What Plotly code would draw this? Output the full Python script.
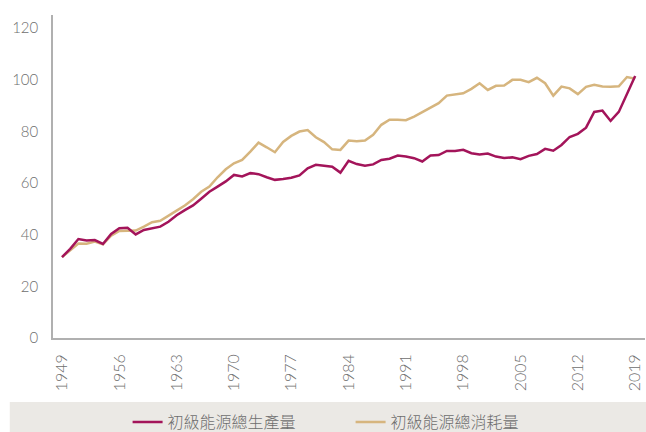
import plotly.graph_objects as go

# Primary energy, index values
years = list(range(1949, 2020))

production = [
    31.3, 34.5, 38.3, 37.7, 37.9, 36.4, 40.3, 42.5, 42.7, 40.1,
    41.8, 42.5, 43.1, 45.0, 47.5, 49.5, 51.3, 53.9, 56.6, 58.6,
    60.6, 63.1, 62.5, 63.8, 63.4, 62.2, 61.2, 61.5, 62.0, 62.9,
    65.7, 67.0, 66.7, 66.3, 64.0, 68.6, 67.3, 66.7, 67.2, 68.9,
    69.4, 70.6, 70.2, 69.6, 68.3, 70.6, 70.8, 72.4, 72.4, 72.8,
    71.5, 71.0, 71.4, 70.2, 69.7, 69.9, 69.2, 70.5, 71.2, 73.2,
    72.5, 74.7, 77.8, 79.0, 81.4, 87.5, 88.0, 84.0, 87.5, 94.8,
    101.4,
]

consumption = [
    31.3, 34.1, 36.6, 36.5, 37.3, 36.3, 39.6, 41.4, 41.5, 41.6,
    43.1, 44.8, 45.4, 47.2, 49.3, 51.3, 53.7, 56.6, 58.6, 62.2,
    65.3, 67.6, 68.9, 72.1, 75.6, 73.8, 71.9, 75.9, 78.2, 79.9,
    80.5, 77.7, 75.8, 73.0, 72.8, 76.4, 76.1, 76.4, 78.6, 82.5,
    84.5, 84.5, 84.3, 85.7, 87.4, 89.2, 90.9, 93.8, 94.3, 94.7,
    96.4, 98.6, 96.0, 97.6, 97.7, 99.9, 99.9, 99.0, 100.7, 98.6,
    93.8, 97.3, 96.6, 94.4, 97.2, 98.0, 97.3, 97.2, 97.4, 101.0,
    100.3,
]

x_ticks = [1949, 1956, 1963, 1970, 1977, 1984, 1991, 1998, 2005, 2012, 2019]
y_ticks = [0, 20, 40, 60, 80, 100, 120]

names = ['初級能源總生產量', '初級能源總消耗量']
colors = ['#a3145a', '#d6b57e']

FONT = 'Lato, "Noto Sans CJK TC", sans-serif'

fig = go.Figure()

# consumption drawn first so the production line sits on top
fig.add_trace(go.Scatter(
    x=years, y=consumption, mode='lines', name=names[1],
    line=dict(color=colors[1], width=2.5), legendrank=2,
))
fig.add_trace(go.Scatter(
    x=years, y=production, mode='lines', name=names[0],
    line=dict(color=colors[0], width=2.5), legendrank=1,
))

# grey band behind the legend
fig.add_shape(
    type='rect', xref='paper', yref='paper',
    x0=-0.073, x1=1.01, y0=-0.30, y1=-0.198,
    fillcolor='#ebe9e5', line=dict(width=0), layer='below',
)

fig.update_layout(
    width=646, height=432,
    margin=dict(l=53, r=1, t=15, b=94, autoexpand=False),
    paper_bgcolor='white',
    plot_bgcolor='white',
    font=dict(family=FONT, color='#6e6e6e', size=15, weight=300),
    showlegend=True,
    legend=dict(
        orientation='h',
        x=0.126, xanchor='left',
        y=-0.26, yanchor='middle',
        bgcolor='rgba(0,0,0,0)',
        itemwidth=30,
        entrywidth=178,
        font=dict(size=16, color='#6e6e6e', weight=300),
    ),
    xaxis=dict(
        range=[1947.9, 2020.2],
        tickvals=x_ticks,
        tickangle=-90,
        showgrid=False,
        zeroline=False,
        showline=True,
        linecolor='#b0b0b0',
        linewidth=1.5,
        ticks='',
        ticklabelstandoff=8,
        tickfont=dict(size=16, weight=300),
        automargin=False,
    ),
    yaxis=dict(
        range=[0, 125],
        tickvals=y_ticks,
        showgrid=False,
        zeroline=False,
        showline=True,
        linecolor='#b0b0b0',
        linewidth=1.5,
        ticks='',
        ticklabelstandoff=10,
        tickfont=dict(size=15, weight=300),
        automargin=False,
    ),
)

fig.write_html(
    "out.html",
    config={'displayModeBar': False},
    post_script="document.body.style.margin='0';",
)
